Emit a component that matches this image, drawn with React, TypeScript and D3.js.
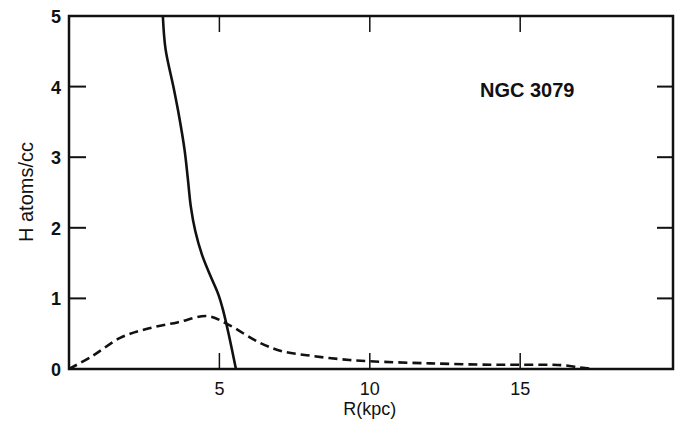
import React from "react";
import * as d3 from "d3";

const solidR = [3.12, 3.21, 3.47, 3.66, 3.84, 3.95, 4.05, 4.2, 4.42, 4.69, 4.97, 5.13, 5.3, 5.55];
const solidH = [5.0, 4.53, 4.0, 3.58, 3.11, 2.7, 2.3, 1.95, 1.62, 1.33, 1.05, 0.82, 0.51, 0.0];
const dashR = [0, 0.8, 1.7, 2.6, 3.6, 4.6, 5.25, 6.35, 7.1, 8.0, 9.0, 10, 12, 14, 15, 16, 16.5, 17, 17.4];
const dashH = [0, 0.19, 0.44, 0.57, 0.66, 0.75, 0.64, 0.37, 0.25, 0.19, 0.14, 0.11, 0.08, 0.06, 0.06, 0.06, 0.05, 0.02, 0];
const xTicks = [5, 10, 15];
const yTicks = [0, 1, 2, 3, 4, 5];
const title = "NGC 3079";
const xLabel = "R(kpc)";
const yLabel = "H atoms/cc";

export default function App() {
  const W = 687, H = 422;
  const xMax = 20.08;
  const x = d3.scaleLinear().domain([0, xMax]).range([69, 673]);
  const y = d3.scaleLinear().domain([0, 5]).range([369, 16]);
  const line = d3.line<[number, number]>().x(d => x(d[0])).y(d => y(d[1])).curve(d3.curveCatmullRom.alpha(0.5));
  const solid = solidR.map((r, i) => [r, solidH[i]] as [number, number]);
  const dash = dashR.map((r, i) => [r, dashH[i]] as [number, number]);
  const font = "'Liberation Sans', Arial, sans-serif";
  const tl = 16;
  return (
    <div style={{ position: "absolute", left: 0, top: 0 }}>
      <svg width={W} height={H} style={{ display: "block", background: "#fff" }}>
        <rect x={x(0)} y={y(5)} width={x(xMax) - x(0)} height={y(0) - y(5)} fill="none" stroke="#111" strokeWidth={2.5} />
        {xTicks.map(t => (
          <g key={"x" + t}>
            <line x1={x(t)} x2={x(t)} y1={y(0)} y2={y(0) - tl} stroke="#111" strokeWidth={1.5} />
            <line x1={x(t)} x2={x(t)} y1={y(5)} y2={y(5) + tl} stroke="#111" strokeWidth={1.5} />
            <text x={x(t)} y={395} textAnchor="middle" fontFamily={font} fontSize={18} fill="#111">{t}</text>
          </g>
        ))}
        {yTicks.map(t => (
          <g key={"y" + t}>
            {t > 0 && t < 5 && <line x1={x(0)} x2={x(0) + tl + 1} y1={y(t)} y2={y(t)} stroke="#111" strokeWidth={2} />}
            {t > 0 && t < 5 && <line x1={x(xMax)} x2={x(xMax) - tl} y1={y(t)} y2={y(t)} stroke="#111" strokeWidth={2} />}
            <text x={61} y={y(t) + 7} textAnchor="end" fontFamily={font} fontSize={18} fontWeight="bold" fill="#111">{t}</text>
          </g>
        ))}
        <path d={line(solid) || ""} fill="none" stroke="#111" strokeWidth={2.6} />
        <path d={line(dash) || ""} fill="none" stroke="#111" strokeWidth={2.6} strokeDasharray="9,5" />
        <text x={480} y={97} fontFamily={font} fontSize={20} fontWeight="bold" fill="#111">{title}</text>
        <text x={x(10)} y={415} textAnchor="middle" fontFamily={font} fontSize={18} fill="#111">{xLabel}</text>
        <text transform={`translate(33,${192}) rotate(-90)`} textAnchor="middle" fontFamily={font} fontSize={20} fill="#111">{yLabel}</text>
      </svg>
    </div>
  );
}
